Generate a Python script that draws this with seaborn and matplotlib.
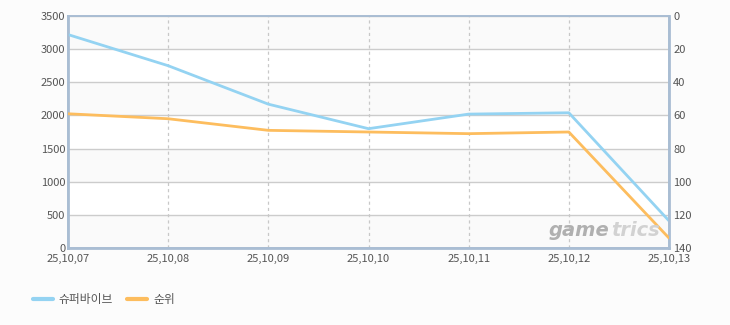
import matplotlib
matplotlib.use("Agg")
import matplotlib.pyplot as plt
import seaborn as sns
import pandas as pd
import numpy as np

dates = ["25,10,07", "25,10,08", "25,10,09", "25,10,10", "25,10,11", "25,10,12", "25,10,13"]
superbive = [3220, 2750, 2170, 1800, 2020, 2040, 410]
rank = [59, 62, 69, 70, 71, 70, 134]
left_ticks = [0, 500, 1000, 1500, 2000, 2500, 3000, 3500]
right_ticks = [0, 20, 40, 60, 80, 100, 120, 140]

sns.set_theme(style="white")
plt.rcParams['font.family'] = ['Noto Sans CJK KR', 'DejaVu Sans']

BLUE = "#94d3f2"
ORANGE = "#fdbd5e"
TICK = "#555555"
SPINE = "#a9bdd3"

df = pd.DataFrame({"x": np.arange(len(dates)), "date": dates, "sales": superbive, "rank": rank})

W, H = 730, 325
fig = plt.figure(figsize=(7.3, 3.25), dpi=100, facecolor="#fcfcfc")
ax = fig.add_axes([68/W, 1-248/H, (669-68)/W, (248-16)/H])
ax.set_facecolor("white")
for i in range(0, 7, 2):
    ax.axhspan(left_ticks[i], left_ticks[i+1], color="#fafafa", zorder=0, lw=0)

sns.lineplot(data=df, x="x", y="sales", ax=ax, color=BLUE, lw=2, legend=False, zorder=3)
ax2 = ax.twinx()
sns.lineplot(data=df, x="x", y="rank", ax=ax2, color=ORANGE, lw=2, legend=False, zorder=3)

ax.set_xlim(0, len(dates)-1)
ax.set_ylim(0, 3500)
ax2.set_ylim(140, 0)
ax.set_yticks(left_ticks)
ax2.set_yticks(right_ticks)
ax.set_xticks(df["x"])
ax.set_xticklabels(dates)
ax.set_xlabel("")
ax.set_ylabel("")
ax2.set_ylabel("")

ax.grid(axis="y", color="#cccccc", lw=1, ls="-")
for xv in df["x"][1:-1]:
    ax.axvline(xv, color="#c8c8c8", lw=0.9, ls=(0, (2.5, 2.5)), zorder=1)
ax.set_axisbelow(True)

ax.tick_params(axis="x", colors=TICK, labelsize=8, length=0, pad=4)
ax.tick_params(axis="y", colors=TICK, labelsize=8, length=0, pad=2)
ax2.tick_params(axis="y", colors=TICK, labelsize=8, length=0, pad=3)
for lab in ax.get_yticklabels() + ax.get_xticklabels() + ax2.get_yticklabels():
    lab.set_color(TICK)

for a in (ax, ax2):
    for s in a.spines.values():
        s.set_color(SPINE)
        s.set_linewidth(1.2)
ax.spines["left"].set_linewidth(2)
ax.spines["bottom"].set_linewidth(2)
ax2.spines["right"].set_linewidth(2)

t1 = fig.text(549/W, 1-236/H, "game", ha="left", va="baseline",
              fontsize=14, fontweight="bold", fontstyle="italic", color="#b0b0b0",
              family="DejaVu Sans", zorder=2)
fig.canvas.draw()
bb = t1.get_window_extent()
fig.text((bb.x1 + 1)/W, 1-236/H, "trics", ha="left", va="baseline",
         fontsize=14, fontweight="bold", fontstyle="italic", color="#d2d2d2",
         family="DejaVu Sans", zorder=2)

from matplotlib.lines import Line2D
handles = [Line2D([0], [0], color=BLUE, lw=3), Line2D([0], [0], color=ORANGE, lw=3)]
fig.legend(handles, ["슈퍼바이브", "순위"], loc="center left", bbox_to_anchor=(22/W, 1-300/H),
           ncol=2, frameon=False, fontsize=8.5, handlelength=1.7, handletextpad=0.5,
           columnspacing=1.2, labelcolor=TICK)

fig.savefig("out.png", dpi=100, facecolor=fig.get_facecolor())
